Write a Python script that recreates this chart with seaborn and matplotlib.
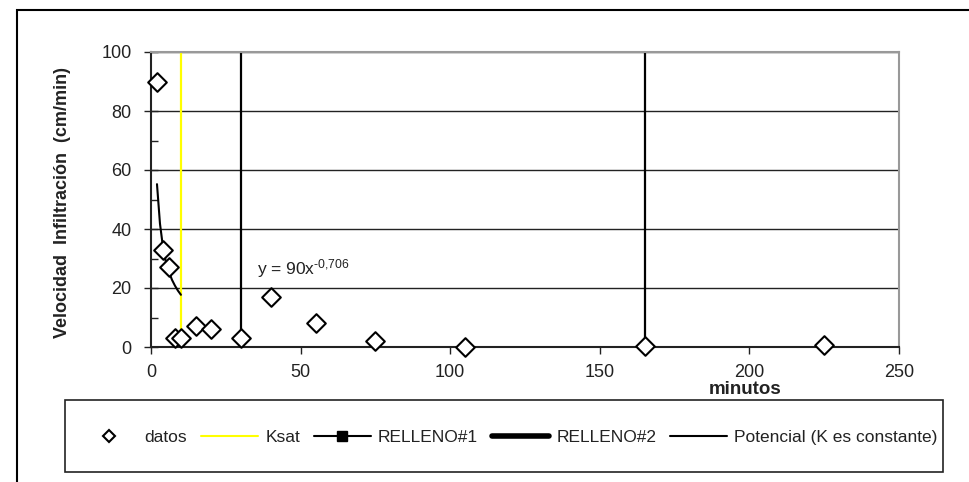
import matplotlib
matplotlib.use("Agg")
import matplotlib.pyplot as plt
import seaborn as sns
import numpy as np
import pandas as pd
from matplotlib.lines import Line2D
from matplotlib.patches import Rectangle
from matplotlib.ticker import MultipleLocator

# ---- data ----
tiempo = [2, 4, 6, 8, 10, 15, 20, 30, 40, 55, 75, 105, 165, 225]
velocidad = [90, 33, 27, 3, 3, 7, 6, 3, 17, 8, 2, 0, 0.3, 0.7]
trend_x = [2, 3, 4, 5, 6, 7, 8, 9, 10]
trend_y = [55.2, 41.8, 33.9, 28.7, 25.5, 22.8, 20.8, 19.1, 17.7]
ksat_x = 10
relleno1_x = 30
relleno2_x = 165
x_ticks = [0, 50, 100, 150, 200, 250]
y_ticks = [0, 20, 40, 60, 80, 100]
legend_labels = ["datos", "Ksat", "RELLENO#1", "RELLENO#2", "Potencial (K es constante)"]

sns.set_theme(style="white")
plt.rcParams['font.family'] = ['Liberation Sans', 'DejaVu Sans']
plt.rcParams['mathtext.fontset'] = 'custom'
plt.rcParams['mathtext.rm'] = 'Liberation Sans'
plt.rcParams['mathtext.it'] = 'Liberation Sans'

W, H = 969, 482
fig = plt.figure(figsize=(W / 100, H / 100), dpi=100)
fig.patch.set_facecolor("white")

# outer frame
fig.patches.append(Rectangle((17 / W, -0.1), 1.2, 1 - 10 / H + 0.1, transform=fig.transFigure,
                             fill=False, edgecolor="black", linewidth=1.5, zorder=0))

ax = fig.add_axes([151 / W, 1 - 347 / H, (899 - 151) / W, (347 - 52) / H])
ax.set_facecolor("white")

df = pd.DataFrame({"t": tiempo, "v": velocidad})
dft = pd.DataFrame({"t": trend_x, "v": trend_y})

for y in y_ticks[1:]:
    ax.axhline(y, color="#222222", linewidth=1.0, zorder=1)

ax.axvline(ksat_x, color="#ffff00", linewidth=1.6, zorder=2)
ax.axvline(relleno1_x, color="black", linewidth=1.6, zorder=2)
ax.axvline(relleno2_x, color="black", linewidth=1.6, zorder=2)

sns.lineplot(data=dft, x="t", y="v", ax=ax, color="black", linewidth=1.5, zorder=3)
sns.scatterplot(data=df, x="t", y="v", ax=ax, marker="D", s=90, facecolor="white",
                edgecolor="black", linewidth=1.5, zorder=4, clip_on=False)

ax.set_xlim(0, 250)
ax.set_ylim(0, 100)
ax.set_xticks(x_ticks)
ax.set_yticks(y_ticks)
ax.yaxis.set_minor_locator(MultipleLocator(10))
ax.tick_params(axis="x", direction="out", length=5, width=1, colors="#222222",
               labelsize=13, labelcolor="#222222", bottom=True, pad=7)
ax.tick_params(axis="y", which="major", direction="inout", length=10, width=1,
               colors="#222222", labelsize=13, labelcolor="#222222", left=True, pad=9)
ax.tick_params(axis="y", which="minor", direction="in", length=5, width=1,
               colors="#222222", left=True)
ax.set_xlabel("")
ax.set_ylabel("")

for side in ["top", "right"]:
    ax.spines[side].set_color("#999999")
    ax.spines[side].set_linewidth(1.5)
for side in ["left", "bottom"]:
    ax.spines[side].set_color("#222222")
    ax.spines[side].set_linewidth(1.5)

ax.text(35.5, 24.5, r"y = 90x$^{\text{-0,706}}$", fontsize=12.5, color="#222222")

fig.text(63 / W, 1 - 202 / H, "Velocidad  Infiltración  (cm/min)", rotation=90,
         ha="center", va="center", fontsize=13, fontweight="bold", color="#222222")
fig.text(745 / W, 1 - 390 / H, "minutos", ha="center", va="center",
         fontsize=13.5, fontweight="bold", color="#222222")

# legend frame
fig.patches.append(Rectangle((65 / W, 1 - 472 / H), (943 - 65) / W, 72 / H,
                             transform=fig.transFigure, fill=False,
                             edgecolor="#222222", linewidth=1.2))
handles = [
    Line2D([], [], linestyle="none", marker="D", markersize=6, markerfacecolor="white",
           markeredgecolor="black", markeredgewidth=1.5),
    Line2D([], [], color="#ffff00", linewidth=1.5),
    Line2D([], [], color="black", linewidth=1.5, marker="s", markersize=7),
    Line2D([], [], color="black", linewidth=4),
    Line2D([], [], color="black", linewidth=1.5),
]
fig.legend(handles, legend_labels, loc="center", bbox_to_anchor=(509 / W, 1 - 437 / H),
           ncol=5, frameon=False, fontsize=12.5, handlelength=3.3, handletextpad=0.4,
           columnspacing=0.8, labelcolor="#222222")

fig.savefig("out.png", dpi=100)
